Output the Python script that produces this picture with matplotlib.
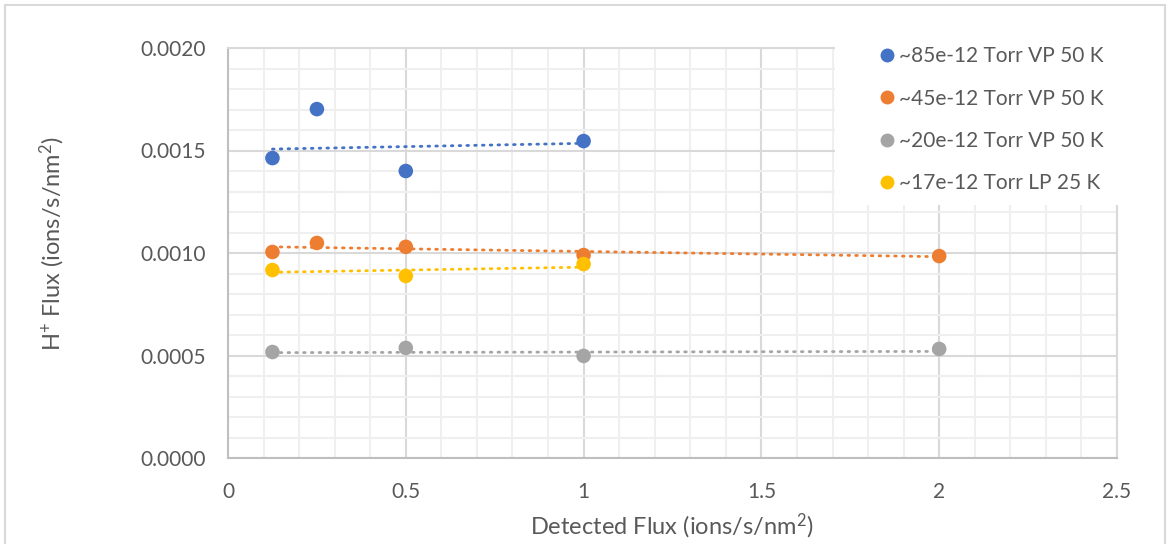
import matplotlib
matplotlib.use("Agg")
import matplotlib.pyplot as plt
from matplotlib.lines import Line2D
from matplotlib.patches import Rectangle
from matplotlib.ticker import MultipleLocator, FormatStrFormatter

plt.rcParams["font.family"] = ["Lato", "DejaVu Sans"]
plt.rcParams["mathtext.fontset"] = "custom"
plt.rcParams["mathtext.rm"] = "Lato"
plt.rcParams["mathtext.it"] = "Lato:italic"

# --- data ---
labels = ["~85e-12 Torr VP 50 K", "~45e-12 Torr VP 50 K",
          "~20e-12 Torr VP 50 K", "~17e-12 Torr LP 25 K"]
colors = ["#4472C4", "#ED7D31", "#A5A5A5", "#FFC000"]

x_85 = [0.125, 0.25, 0.5, 1.0]
y_85 = [0.001463, 0.001702, 0.001400, 0.001546]
x_45 = [0.125, 0.25, 0.5, 1.0, 2.0]
y_45 = [0.001005, 0.001049, 0.001030, 0.000990, 0.000985]
x_20 = [0.125, 0.5, 1.0, 2.0]
y_20 = [0.000517, 0.000537, 0.000498, 0.000532]
x_17 = [0.125, 0.5, 1.0]
y_17 = [0.000917, 0.000888, 0.000946]

# trendline values at first / last x of each series
trend_85 = [0.001507, 0.001535]
trend_45 = [0.001030, 0.000982]
trend_20 = [0.000514, 0.000520]
trend_17 = [0.000906, 0.000931]

x_ticks = [0, 0.5, 1, 1.5, 2, 2.5]
x_ticklabels = ["0", "0.5", "1", "1.5", "2", "2.5"]

series = [(x_85, y_85, trend_85), (x_45, y_45, trend_45),
          (x_20, y_20, trend_20), (x_17, y_17, trend_17)]

txt = "#595959"
fig = plt.figure(figsize=(11.69, 5.44), dpi=100)
ax = fig.add_axes([228 / 1169, 86 / 544, 889 / 1169, 410 / 544])

for (xs, ys, tr), c in zip(series, colors):
    ax.plot([xs[0], xs[-1]], tr, color=c, lw=2, linestyle=(0, (0.6, 2.2)),
            dash_capstyle="round", zorder=3)
    ax.scatter(xs, ys, s=110, color=c, edgecolors="none", zorder=4)

ax.set_xlim(0, 2.5)
ax.set_ylim(0, 0.002)
ax.set_xticks(x_ticks)
ax.set_xticklabels(x_ticklabels)
ax.xaxis.set_minor_locator(MultipleLocator(0.1))
ax.yaxis.set_major_locator(MultipleLocator(0.0005))
ax.yaxis.set_minor_locator(MultipleLocator(0.0001))
ax.yaxis.set_major_formatter(FormatStrFormatter("%.4f"))

ax.set_axisbelow(True)
ax.grid(which="major", color="#D9D9D9", lw=1.5)
ax.grid(which="minor", color="#EFEFEF", lw=1.5)
ax.tick_params(which="both", length=0, labelsize=15, colors=txt)
ax.tick_params(axis="y", pad=16)
ax.tick_params(axis="x", pad=17)
for s in ["left", "bottom"]:
    ax.spines[s].set_color("#BFBFBF")
    ax.spines[s].set_linewidth(1.5)
for s in ["top", "right"]:
    ax.spines[s].set_color("#D9D9D9")
    ax.spines[s].set_linewidth(1.5)

# white legend area covering the grid
ax.add_patch(Rectangle((835 / 1169, 1 - 205 / 544), 290 / 1169, 175 / 544,
                       transform=fig.transFigure, facecolor="white",
                       edgecolor="none", zorder=3.5, clip_on=False))
handles = [Line2D([], [], marker="o", ls="none", ms=10, color=c, mec="none")
           for c in colors]
leg = fig.legend(handles, labels, loc="upper left",
                 bbox_to_anchor=(868 / 1169, 1 - 38 / 544), frameon=False,
                 fontsize=15, labelspacing=1.07, handletextpad=0.1,
                 handlelength=1.0, borderaxespad=0)
leg.set_zorder(5)
for t in leg.get_texts():
    t.set_color(txt)

fig.text(52 / 1169, 1 - 243 / 544, r"H$^{+}$ Flux (ions/s/nm$^{2}$)",
         rotation=90, ha="center", va="center", fontsize=17, color=txt)
fig.text(672 / 1169, 1 - 526 / 544, r"Detected Flux (ions/s/nm$^{2}$)",
         ha="center", va="center", fontsize=17, color=txt)

fig.add_artist(Rectangle((5 / 1169, -0.1), 1160 / 1169, 1.1 - 5 / 544,
                         transform=fig.transFigure, facecolor="none",
                         edgecolor="#D9D9D9", lw=1.5))

fig.savefig("out.png", dpi=100)
